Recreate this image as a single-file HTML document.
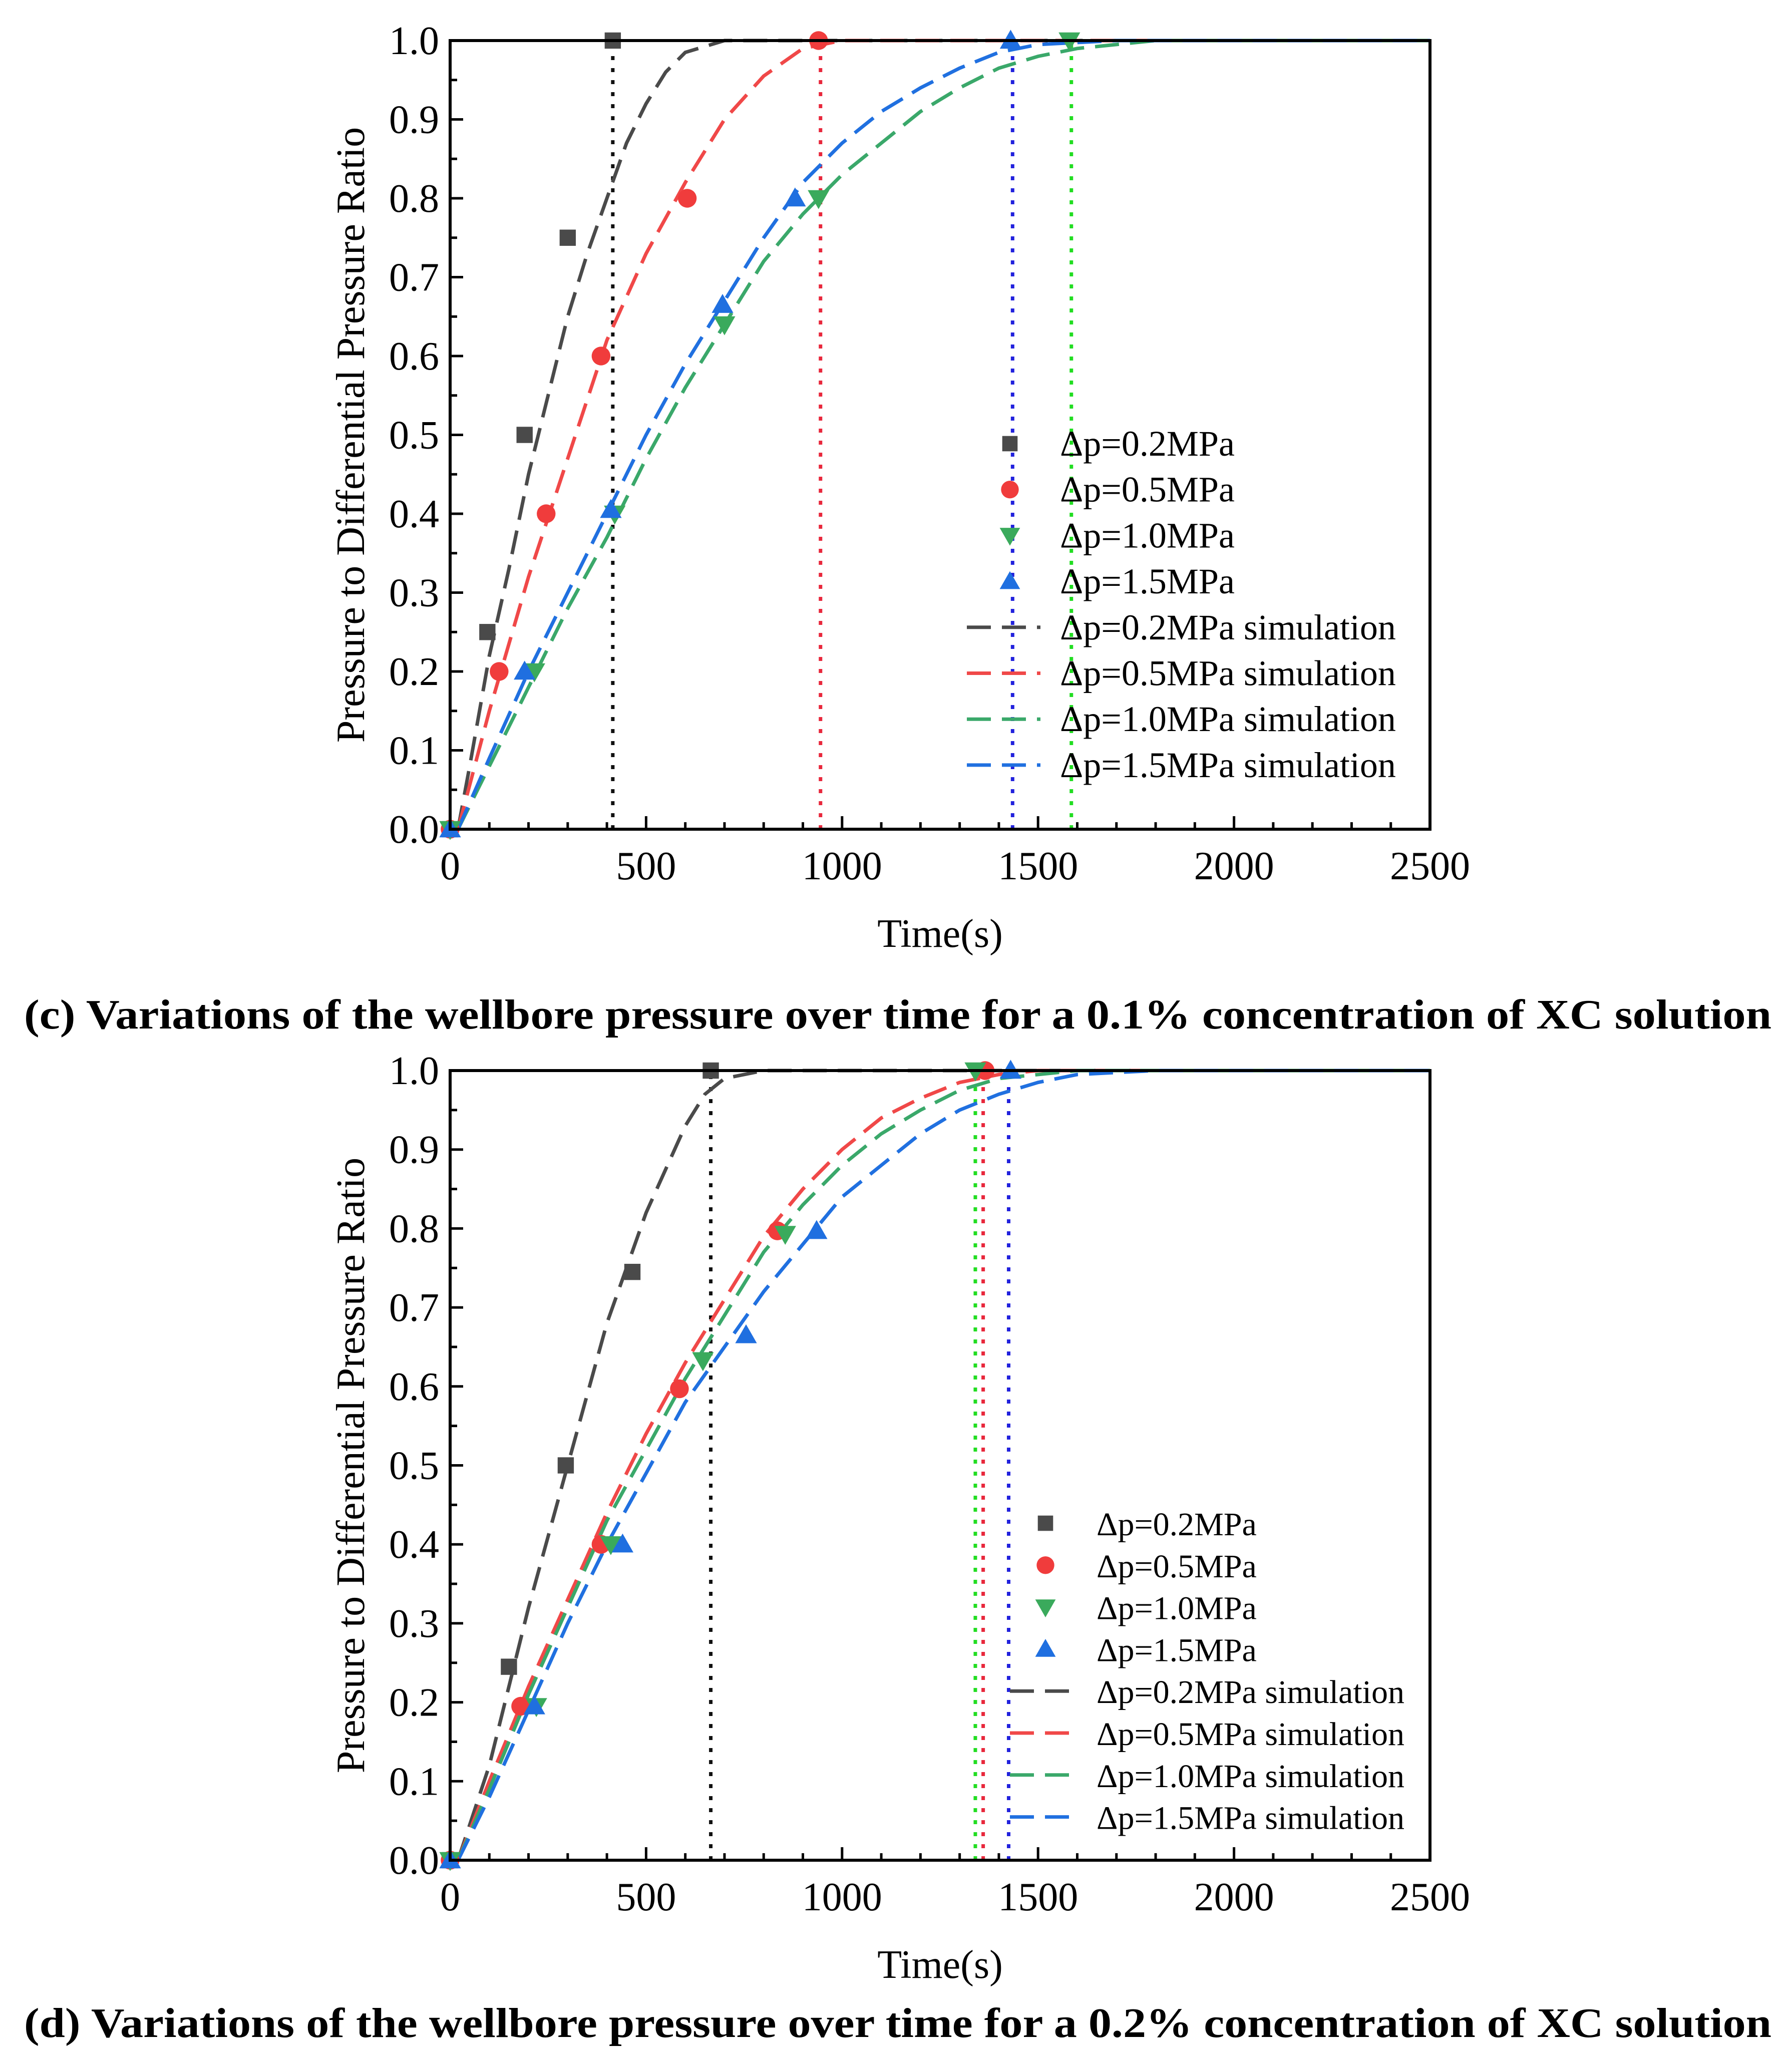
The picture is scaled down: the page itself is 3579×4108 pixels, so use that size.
<!DOCTYPE html>
<html><head><meta charset="utf-8"><style>
html,body{margin:0;padding:0;background:#fff;}
svg{display:block;}
svg text{font-family:"Liberation Serif","DejaVu Serif",serif;}
</style></head><body>
<svg id="fig" width="3579" height="4108" viewBox="0 0 3579 4108" xmlns="http://www.w3.org/2000/svg" font-family="Liberation Serif, serif">
<rect x="0" y="0" width="3579" height="4108" fill="#fff"/>
<text font-family="Liberation Serif, serif" x="48" y="2054" font-size="84" font-weight="bold" textLength="3490" lengthAdjust="spacingAndGlyphs">(c) Variations of the wellbore pressure over time for a 0.1% concentration of XC solution</text>
<text font-family="Liberation Serif, serif" x="48" y="4068" font-size="84" font-weight="bold" textLength="3490" lengthAdjust="spacingAndGlyphs">(d) Variations of the wellbore pressure over time for a 0.2% concentration of XC solution</text>
</svg>
<script>
// ---- Chart c data ----
const xTicks = [0,500,1000,1500,2000,2500];
const yTicks = [0.0,0.1,0.2,0.3,0.4,0.5,0.6,0.7,0.8,0.9,1.0];
const seriesNames = ["Δp=0.2MPa","Δp=0.5MPa","Δp=1.0MPa","Δp=1.5MPa"];
const c_t02 = [0,95,190,300,415];        const c_v02 = [0,0.25,0.5,0.75,1.0];
const c_t05 = [0,125,245,385,605,940];   const c_v05 = [0,0.2,0.4,0.6,0.8,1.0];
const c_t10 = [0,215,420,700,940,1580];  const c_v10 = [0,0.2,0.4,0.64,0.8,1.0];
const c_t15 = [0,190,410,695,880,1430];  const c_v15 = [0,0.2,0.405,0.665,0.8,1.0];
const c_st02 = [20,50,100,150,200,250,300,350,400,450,500,550,600,700,2500];
const c_sv02 = [0,0.08,0.22,0.33,0.45,0.55,0.65,0.73,0.80,0.87,0.92,0.96,0.985,1,1];
const c_st05 = [20,100,200,300,400,500,600,700,800,900,1000,2500];
const c_sv05 = [0,0.15,0.32,0.47,0.62,0.73,0.82,0.9,0.955,0.99,1,1];
const c_st10 = [20,100,200,300,400,500,600,700,800,900,1000,1100,1200,1300,1400,1500,1600,1800,2500];
const c_sv10 = [0,0.08,0.18,0.28,0.37,0.47,0.56,0.64,0.72,0.78,0.83,0.87,0.91,0.94,0.965,0.98,0.99,1,1];
const c_st15 = [20,100,200,300,400,500,600,700,800,900,1000,1100,1200,1300,1400,1500,1700,2500];
const c_sv15 = [0,0.09,0.2,0.3,0.4,0.5,0.59,0.67,0.75,0.82,0.87,0.91,0.94,0.965,0.985,0.995,1,1];
const c_vlines = [415,945,1585,1435];
// ---- Chart d data ----
const d_t02 = [0,150,295,465,665];       const d_v02 = [0,0.245,0.5,0.745,1.0];
const d_t05 = [0,180,385,585,835,1365];  const d_v05 = [0,0.195,0.4,0.597,0.797,1.0];
const d_t10 = [0,220,410,645,855,1340];  const d_v10 = [0,0.195,0.4,0.633,0.793,1.0];
const d_t15 = [0,215,440,755,935,1430];  const d_v15 = [0,0.195,0.4,0.665,0.797,1.0];
const d_st02 = [20,100,200,300,400,500,600,650,700,800,2500];
const d_sv02 = [0,0.12,0.32,0.5,0.68,0.82,0.93,0.97,0.99,1,1];
const d_st05 = [20,100,200,300,400,500,600,700,800,900,1000,1100,1200,1300,1400,1500,2500];
const d_sv05 = [0,0.1,0.22,0.33,0.44,0.54,0.63,0.71,0.79,0.85,0.9,0.94,0.965,0.985,0.995,1,1];
const d_st10 = [20,100,200,300,400,500,600,700,800,900,1000,1100,1200,1300,1400,1600,2500];
const d_sv10 = [0,0.09,0.21,0.32,0.43,0.52,0.61,0.69,0.77,0.83,0.88,0.92,0.95,0.975,0.99,1,1];
const d_st15 = [20,100,200,300,400,500,600,700,800,900,1000,1100,1200,1300,1400,1500,1600,1800,2500];
const d_sv15 = [0,0.08,0.19,0.3,0.4,0.49,0.58,0.65,0.72,0.78,0.84,0.88,0.92,0.95,0.97,0.985,0.995,1,1];
const d_vlines = [665,1360,1340,1425];

const NS="http://www.w3.org/2000/svg";
const FF="Liberation Serif, serif";
const svg=document.getElementById('fig');
const markCol=["#4a4a4a","#f03c3c","#3aaa5c","#1f6fe0"];
const lineCol=["#4a4a4a","#f04848","#3aa86a","#2070e0"];
const vCol=["#111","#e8283c","#22dd22","#2222dd"];
function mk(tag,attrs,parent){const e=document.createElementNS(NS,tag);for(const k in attrs)e.setAttribute(k,attrs[k]);if(tag==='text')e.setAttribute('font-family',FF);(parent||svg).appendChild(e);return e;}
function marker(g,kind,cx,cy,col,s){
  if(kind===0) return mk('rect',{x:cx-s*0.45,y:cy-s*0.45,width:s*0.9,height:s*0.9,fill:col},g);
  if(kind===1) return mk('circle',{cx:cx,cy:cy,r:s*0.52,fill:col},g);
  if(kind===2) return mk('polygon',{points:`${cx-s*0.6},${cy-s*0.45} ${cx+s*0.6},${cy-s*0.45} ${cx},${cy+s*0.6}`,fill:col},g);
  return mk('polygon',{points:`${cx-s*0.6},${cy+s*0.45} ${cx+s*0.6},${cy+s*0.45} ${cx},${cy-s*0.6}`,fill:col},g);
}
function chart(id,top,bottom,pts,sims,vlines,leg){
  const L=899,R=2856;
  const X=t=>L+(t/2500)*(R-L);
  const Y=v=>bottom-v*(bottom-top);
  const g=mk('g',{});
  
  
  vlines.forEach((t,i)=>{const l=mk('line',{x1:X(t),x2:X(t),y1:bottom,y2:top,stroke:vCol[i],'stroke-width':7,'stroke-dasharray':'8,16'},g);
    
    });
  sims.forEach((s,i)=>{const d=s[0].map((t,j)=>(j?'L':'M')+X(t).toFixed(1)+','+Y(s[1][j]).toFixed(1)).join('');
    const p=mk('path',{d:d,fill:'none',stroke:lineCol[i],'stroke-width':7,'stroke-dasharray':'48,22'},g);
    
    });
  pts.forEach((s,i)=>{s[0].forEach((t,j)=>{const m=marker(g,i,X(t),Y(s[1][j]),markCol[i],36);
    
    });});
  const box=mk('rect',{x:L,y:top,width:R-L,height:bottom-top,fill:'none',stroke:'#000','stroke-width':6},g);
  
  
  for(let t=0;t<=2500;t+=100){const maj=t%500===0;mk('line',{x1:X(t),x2:X(t),y1:bottom,y2:bottom-(maj?26:14),stroke:'#000','stroke-width':5},g);}
  xTicks.forEach(t=>{const tx=mk('text',{x:X(t),y:bottom+100,'font-size':80,'text-anchor':'middle'},g);tx.textContent=t;
    
    });
  for(let k=0;k<=20;k++){const v=k/20;const maj=k%2===0;mk('line',{x1:L,x2:L+(maj?26:14),y1:Y(v),y2:Y(v),stroke:'#000','stroke-width':5},g);}
  yTicks.forEach(v=>{const tx=mk('text',{x:L-22,y:Y(v)+27,'font-size':80,'text-anchor':'end'},g);tx.textContent=v.toFixed(1);
    
    });
  const xt=mk('text',{x:(L+R)/2,y:bottom+235,'font-size':80,'text-anchor':'middle'},g);xt.textContent='Time(s)';
  
  
  const yc=(top+bottom)/2;
  const yt=mk('text',{x:0,y:0,'font-size':80,'text-anchor':'middle',transform:`translate(727,${yc}) rotate(-90)`},g);yt.textContent='Pressure to Differential Pressure Ratio';
  
  
  for(let i=0;i<8;i++){
    const y=leg.y0+i*leg.dy;
    if(i<4){const m=marker(g,i,leg.mx,y,markCol[i],34);
      
      }
    else{const l=mk('line',{x1:leg.l1,x2:leg.l2,y1:y,y2:y,stroke:lineCol[i-4],'stroke-width':7,'stroke-dasharray':'48,22'},g);
      
      }
    const tx=mk('text',{x:leg.tx,y:y+24,'font-size':leg.fs},g);
    tx.textContent=seriesNames[i%4]+(i>=4?' simulation':'');
    
    
  }
}
chart('chart-c',81,1656,
  [[c_t02,c_v02],[c_t05,c_v05],[c_t10,c_v10],[c_t15,c_v15]],
  [[c_st02,c_sv02],[c_st05,c_sv05],[c_st10,c_sv10],[c_st15,c_sv15]],
  c_vlines,{mx:2017,tx:2117,l1:1931,l2:2078,y0:886,dy:91.7,fs:72});
chart('chart-d',2138,3715,
  [[d_t02,d_v02],[d_t05,d_v05],[d_t10,d_v10],[d_t15,d_v15]],
  [[d_st02,d_sv02],[d_st05,d_sv05],[d_st10,d_sv10],[d_st15,d_sv15]],
  d_vlines,{mx:2088,tx:2190,l1:2017,l2:2154,y0:3042,dy:83.8,fs:66});
</script>
</body></html>
